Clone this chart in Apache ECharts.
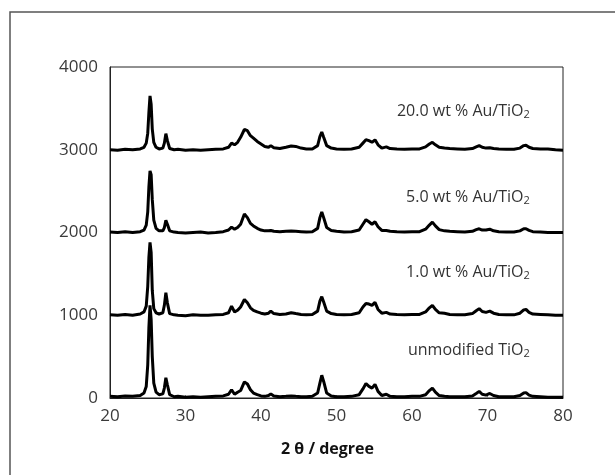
<!DOCTYPE html>
<html>
<head>
<meta charset="utf-8">
<script src="https://cdn.jsdelivr.net/npm/echarts@6/dist/echarts.min.js"></script>
<style>
html,body{margin:0;padding:0;background:#fff;}
#chart{width:615px;height:475px;}
</style>
</head>
<body>
<div id="chart"></div>
<script>
// 2θ positions (degree)
var twoTheta = [20,21,22,23,24,24.5,24.8,25.0,25.15,25.3,
 25.45,25.6,25.8,26.1,26.5,27.0,27.2,27.4,27.6,27.9,
 28.5,29,30,31,32,33,34,35,35.7,36.1,
 36.5,36.9,37.3,37.8,38.2,38.6,39.0,39.5,40.0,40.5,
 41.0,41.3,41.7,42.5,43.3,44.0,44.6,45.3,46.0,46.8,
 47.5,47.8,48.05,48.3,48.7,49.3,50,51,52,53.0,
 53.5,53.9,54.3,54.7,55.1,55.5,56.0,56.6,57.1,58,
 59,60,61,61.8,62.3,62.7,63.1,63.6,64.3,65,
 66,67,68.0,68.5,68.9,69.3,69.8,70.3,70.8,71.5,
 72.5,73.5,74.3,74.8,75.1,75.5,76.0,77,78,79,
 80];

var unmodified = [20,15,25,20,30,60,140,400,850,1120,
 950,500,180,70,40,50,120,245,160,40,
 15,20,10,15,10,15,20,25,45,100,
 45,70,90,195,170,100,60,40,25,20,
 30,50,25,15,20,25,20,15,15,20,
 60,180,275,200,60,25,15,15,20,40,
 110,175,140,120,165,80,30,45,20,15,
 15,20,20,40,90,120,70,30,20,15,
 15,15,25,55,80,45,35,55,30,15,
 15,15,30,60,65,35,20,15,10,10,
 10];

var au1 = [1005,1000,1010,1000,1015,1040,1110,1350,1700,1880,
 1760,1300,1080,1030,1015,1030,1120,1272,1150,1020,
 1005,1000,995,1005,1000,1000,1005,1010,1030,1110,
 1040,1060,1100,1190,1150,1090,1060,1040,1025,1015,
 1025,1050,1020,1010,1015,1030,1020,1010,1005,1010,
 1050,1170,1225,1160,1050,1020,1010,1005,1010,1030,
 1100,1142,1135,1120,1155,1070,1025,1035,1015,1010,
 1005,1010,1010,1040,1090,1120,1070,1030,1025,1010,
 1005,1005,1020,1055,1080,1045,1035,1050,1025,1010,
 1005,1005,1025,1065,1070,1035,1015,1010,1005,1000,
 1000];

var au5 = [2005,2000,2010,2000,2010,2030,2090,2250,2550,2744,
 2700,2400,2150,2050,2020,2020,2060,2146,2100,2020,
 2005,2000,1995,2000,2005,1995,2000,2010,2030,2065,
 2040,2060,2100,2224,2180,2110,2080,2050,2030,2020,
 2020,2025,2015,2010,2015,2018,2015,2010,2005,2010,
 2050,2180,2248,2180,2060,2025,2015,2005,2010,2030,
 2100,2155,2130,2100,2130,2070,2025,2025,2015,2010,
 2005,2010,2010,2040,2090,2125,2080,2035,2020,2015,
 2010,2005,2015,2035,2045,2030,2030,2040,2020,2010,
 2005,2005,2020,2045,2045,2025,2010,2005,2000,2000,
 2000];

var au20 = [3000,2995,3005,3000,3010,3030,3080,3200,3450,3650,
 3550,3250,3090,3030,3010,3020,3080,3195,3110,3015,
 3000,3005,2995,3000,2995,3000,3005,3010,3030,3080,
 3060,3090,3150,3245,3230,3170,3140,3100,3070,3040,
 3030,3050,3025,3015,3030,3045,3040,3020,3010,3010,
 3050,3160,3215,3150,3050,3020,3010,3005,3010,3030,
 3080,3120,3110,3090,3120,3060,3020,3035,3015,3010,
 3005,3010,3010,3035,3070,3090,3060,3030,3020,3015,
 3010,3005,3015,3035,3050,3030,3020,3025,3015,3010,
 3005,3005,3020,3050,3055,3030,3015,3010,3010,3000,
 2995];

var seriesData = [unmodified, au1, au5, au20];
var seriesNames = ['unmodified TiO2', '1.0 wt % Au/TiO2', '5.0 wt % Au/TiO2', '20.0 wt % Au/TiO2'];
var labelMain = ['unmodified TiO', '1.0 wt % Au/TiO', '5.0 wt % Au/TiO', '20.0 wt % Au/TiO'];
var labelAnchorX = [75.6, 75.6, 75.6, 75.6];
var labelAnchorY = [580, 1520, 2420, 3460];
var xTicks = [20, 30, 40, 50, 60, 70, 80];
var yTicks = [0, 1000, 2000, 3000, 4000];
var xTitle = '2 θ / degree';

var FONT = '"Open Sans", "Noto Sans", sans-serif';
var chart = echarts.init(document.getElementById('chart'), null, {renderer: 'canvas'});

function pairs(ys) { return twoTheta.map(function (x, i) { return [x, ys[i]]; }); }

var option = {
  animation: false,
  backgroundColor: '#fff',
  grid: {left: 110, right: 52, top: 67, bottom: 77, show: true, borderColor: '#222', borderWidth: 1, backgroundColor: 'transparent'},
  xAxis: {
    type: 'value', min: xTicks[0], max: xTicks[xTicks.length - 1], interval: 10,
    axisLine: {show: true, lineStyle: {color: '#222', width: 1}},
    axisTick: {show: true, inside: true, length: 3, lineStyle: {color: '#888'}},
    splitLine: {show: false},
    axisLabel: {color: '#3a3a3a', fontSize: 17, fontFamily: FONT, margin: 10},
    name: xTitle, nameLocation: 'middle', nameGap: 43,
    nameTextStyle: {color: '#111', fontSize: 16, fontWeight: 'bold', fontFamily: FONT, padding: [0, 18, 0, 0]}
  },
  yAxis: {
    type: 'value', min: yTicks[0], max: yTicks[yTicks.length - 1], interval: 1000,
    axisLine: {show: true, lineStyle: {color: '#222', width: 1}},
    axisTick: {show: false},
    splitLine: {show: false},
    axisLabel: {color: '#3a3a3a', fontSize: 17, fontFamily: FONT, margin: 12, formatter: function (v) { return String(v); }}
  },
  series: seriesData.map(function (d, i) {
    return {
      name: seriesNames[i], type: 'line', data: pairs(d), showSymbol: false, smooth: false,
      lineStyle: {color: '#000', width: 3}, z: 2 + i
    };
  })
};
chart.setOption(option);

var graphics = [{
  type: 'rect', shape: {x: 10, y: 12, width: 700, height: 600},
  style: {fill: 'none', stroke: '#555', lineWidth: 1.5}, silent: true, z: 0
}];
for (var i = 0; i < labelMain.length; i++) {
  var p = chart.convertToPixel({gridIndex: 0}, [labelAnchorX[i], labelAnchorY[i]]);
  graphics.push({
    type: 'text', x: p[0], y: p[1], z: 10,
    style: {
      text: labelMain[i] + '{sub|2}',
      fill: '#333', font: '16px ' + FONT,
      align: 'right', verticalAlign: 'middle',
      rich: {sub: {fontSize: 11, fill: '#333', fontFamily: FONT, padding: [7, 0, 0, 0]}}
    }
  });
}
chart.setOption({graphic: graphics});
</script>
</body>
</html>
